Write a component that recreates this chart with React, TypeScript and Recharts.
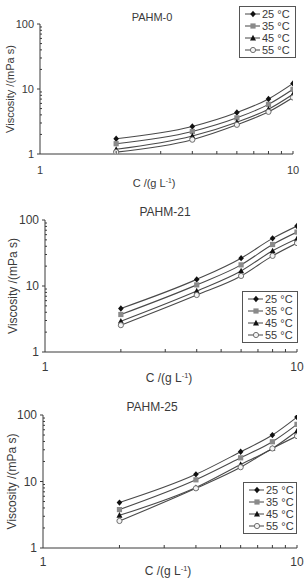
import React from 'react';
import { LineChart, Line, XAxis, YAxis, Legend } from 'recharts';

const FONT = '"Liberation Sans", Arial, Helvetica, sans-serif';
const INK = '#3a3a3a';

// Polymer concentration, g/L
const concentration = [2, 4, 6, 8, 10];
const temperatureNames = ['25 °C', '35 °C', '45 °C', '55 °C'];

// Viscosity (mPa s) per temperature, PAHM-0
const pahm0_25 = [1.72, 2.65, 4.34, 7.03, 12.2];
const pahm0_35 = [1.44, 2.22, 3.6, 5.8, 9.9];
const pahm0_45 = [1.18, 1.89, 3.09, 4.89, 8.3];
const pahm0_55 = [1.07, 1.66, 2.81, 4.45, 7.4];

// PAHM-21
const pahm21_25 = [4.57, 12.6, 26.4, 52.7, 81];
const pahm21_35 = [3.7, 10.4, 20.9, 42.5, 65.6];
const pahm21_45 = [2.93, 8.4, 16.9, 34.1, 52];
const pahm21_55 = [2.55, 7.3, 14.2, 28.6, 44.7];

// PAHM-25
const pahm25_25 = [4.82, 12.8, 28, 49.9, 93];
const pahm25_35 = [3.78, 10.6, 22.7, 39.6, 72.3];
const pahm25_45 = [3.1, 8.1, 18, 31.4, 57.4];
const pahm25_55 = [2.55, 7.9, 16.4, 31.4, 48.2];

const xTicks = [1, 2, 3, 4, 5, 6, 7, 8, 9, 10];
const yTicks = [1, 2, 3, 4, 5, 6, 7, 8, 9, 10, 20, 30, 40, 50, 60, 70, 80, 90, 100];
const xLabelTicks = [1, 10];
const yLabelTicks = [1, 10, 100];

const seriesKeys = ['t25', 't35', 't45', 't55'];
const markerKinds: Record<string, string> = {
  t25: 'diamond',
  t35: 'square',
  t45: 'triangle',
  t55: 'circle',
};

function buildRows(series: number[][]) {
  return concentration.map((c, i) => {
    const row: Record<string, number> = { c };
    seriesKeys.forEach((k, s) => {
      row[k] = series[s][i];
    });
    return row;
  });
}

function Marker({ kind, cx, cy }: { kind: string; cx: number; cy: number }) {
  switch (kind) {
    case 'diamond':
      return <path d={`M${cx},${cy - 3.2}L${cx + 2.8},${cy}L${cx},${cy + 3.2}L${cx - 2.8},${cy}Z`} fill="#111" />;
    case 'square':
      return <rect x={cx - 2.6} y={cy - 2.6} width={5.2} height={5.2} fill="#8a8a8a" />;
    case 'triangle':
      return <path d={`M${cx},${cy - 3.2}L${cx + 3},${cy + 2.4}L${cx - 3},${cy + 2.4}Z`} fill="#111" />;
    default:
      return <circle cx={cx} cy={cy} r={2.6} fill="#f4f4f4" stroke="#6f6f6f" strokeWidth={1} />;
  }
}

function makeYTick(fontSize: number) {
  return function YTick(props: any) {
    const { x, y, payload } = props;
    const v = payload.value;
    const major = yLabelTicks.includes(v);
    return (
      <g>
        {major ? (
          <line x1={x - 3} x2={x} y1={y} y2={y} stroke={INK} strokeWidth={1} />
        ) : (
          <line x1={x} x2={x + 2} y1={y} y2={y} stroke={INK} strokeWidth={1} />
        )}
        {major && (
          <text x={x - 6} y={y} dy={fontSize * 0.36} textAnchor="end" fontFamily={FONT} fontSize={fontSize} fill={INK}>
            {v}
          </text>
        )}
      </g>
    );
  };
}

function makeXTick(fontSize: number, gap: number) {
  return function XTick(props: any) {
    const { x, y, payload } = props;
    const v = payload.value;
    const major = xLabelTicks.includes(v);
    return (
      <g>
        {v !== 1 && <line x1={x} x2={x} y1={y} y2={y - 3} stroke={INK} strokeWidth={1} />}
        {major && (
          <text x={x} y={y + gap} dy={fontSize * 0.36} textAnchor="middle" fontFamily={FONT} fontSize={fontSize} fill={INK}>
            {v}
          </text>
        )}
      </g>
    );
  };
}

function YTitle(props: any) {
  const { viewBox, labelX, fontSize } = props;
  const cy = viewBox.y + viewBox.height / 2;
  return (
    <text
      transform={`translate(${labelX},${cy}) rotate(-90)`}
      textAnchor="middle"
      dy={fontSize * 0.36}
      fontFamily={FONT}
      fontSize={fontSize}
      fill={INK}
    >
      Viscosity /(mPa s)
    </text>
  );
}

function XTitle(props: any) {
  const { viewBox, labelX, gap, fontSize } = props;
  return (
    <text
      x={labelX}
      y={viewBox.y + gap}
      dy={fontSize * 0.36}
      textAnchor="middle"
      fontFamily={FONT}
      fontSize={fontSize}
      fill={INK}
    >
      C /(g L
      <tspan dy={-fontSize * 0.35} fontSize={fontSize * 0.62}>-1</tspan>
      <tspan dy={fontSize * 0.35}>)</tspan>
    </text>
  );
}

function LegendBox(props: any) {
  const { payload } = props;
  return (
    <div
      style={{
        border: '1px solid #555',
        background: '#fff',
        padding: '1px 2px 1px 4px',
        boxSizing: 'border-box',
        whiteSpace: 'nowrap',
      }}
    >
      {(payload || []).map((item: any) => (
        <div key={item.dataKey} style={{ display: 'flex', alignItems: 'center', height: 12 }}>
          <svg width={17} height={10} style={{ display: 'block', flex: 'none' }}>
            <line x1={1} x2={16} y1={5} y2={5} stroke="#444" strokeWidth={1} />
            <Marker kind={markerKinds[item.dataKey]} cx={9} cy={5} />
          </svg>
          <span style={{ fontFamily: FONT, fontSize: 11, color: INK, lineHeight: '12px', marginLeft: 1 }}>{item.value}</span>
        </div>
      ))}
    </div>
  );
}

type PanelProps = {
  title: string;
  series: number[][];
  top: number;
  axisWidth: number;
  marginTop: number;
  marginRight: number;
  xAxisHeight: number;
  fontSize: number;
  titleX: number;
  titleY: number;
  yLabelX: number;
  xLabelX: number;
  xLabelGap: number;
  xTickGap: number;
  legendLeft: number;
  legendTop: number;
  legendWidth: number;
};

const W = 307;
const H = 193;

function Panel(p: PanelProps) {
  const rows = buildRows(p.series);
  return (
    <div style={{ position: 'absolute', left: 0, top: p.top, width: W, height: H }}>
      <LineChart
        width={W}
        height={H}
        data={rows}
        margin={{ top: p.marginTop, right: p.marginRight, bottom: 0, left: 0 }}
      >
        <XAxis
          dataKey="c"
          type="number"
          scale="log"
          domain={[1, 10]}
          ticks={xTicks}
          interval={0}
          allowDataOverflow
          height={p.xAxisHeight}
          tickSize={0}
          tickMargin={0}
          tickLine={false}
          axisLine={{ stroke: INK, strokeWidth: 1 }}
          tick={makeXTick(p.fontSize, p.xTickGap)}
          label={<XTitle labelX={p.xLabelX} gap={p.xLabelGap} fontSize={p.fontSize} />}
        />
        <YAxis
          type="number"
          scale="log"
          domain={[1, 100]}
          ticks={yTicks}
          interval={0}
          allowDataOverflow
          width={p.axisWidth}
          tickSize={0}
          tickMargin={0}
          tickLine={false}
          axisLine={{ stroke: INK, strokeWidth: 1 }}
          tick={makeYTick(p.fontSize)}
          label={<YTitle labelX={p.yLabelX} fontSize={p.fontSize} />}
        />
        <Legend
          layout="vertical"
          align="center"
          verticalAlign="middle"
          wrapperStyle={{ left: p.legendLeft, top: p.legendTop, width: p.legendWidth }}
          content={<LegendBox />}
        />
        {seriesKeys.map((k, i) => (
          <Line
            key={k}
            dataKey={k}
            name={temperatureNames[i]}
            type="monotone"
            stroke="#4a4a4a"
            strokeWidth={1.1}
            isAnimationActive={false}
            dot={(d: any) => <Marker key={`${k}-${d.index}`} kind={markerKinds[k]} cx={d.cx} cy={d.cy} />}
            activeDot={false}
          />
        ))}
      </LineChart>
      <div
        style={{
          position: 'absolute',
          left: p.titleX - 50,
          width: 100,
          top: p.titleY - 7,
          textAlign: 'center',
          fontFamily: FONT,
          fontSize: p.fontSize,
          lineHeight: '14px',
          color: INK,
          pointerEvents: 'none',
        }}
      >
        {p.title}
      </div>
    </div>
  );
}

export default function App() {
  return (
    <div style={{ position: 'fixed', left: 0, top: 0, width: W, height: 579, background: '#fff', overflow: 'hidden' }}>
      <Panel
        title="PAHM-0"
        series={[pahm0_25, pahm0_35, pahm0_45, pahm0_55]}
        top={0}
        axisWidth={40}
        marginTop={24}
        marginRight={14}
        xAxisHeight={39}
        fontSize={11}
        titleX={152}
        titleY={17}
        yLabelX={10}
        xLabelX={154}
        xLabelGap={29}
        xTickGap={16}
        legendLeft={239}
        legendTop={6}
        legendWidth={57}
      />
      <Panel
        title="PAHM-21"
        series={[pahm21_25, pahm21_35, pahm21_45, pahm21_55]}
        top={193}
        axisWidth={45}
        marginTop={27}
        marginRight={10}
        xAxisHeight={34}
        fontSize={12}
        titleX={165}
        titleY={19}
        yLabelX={13}
        xLabelX={169}
        xLabelGap={26}
        xTickGap={15}
        legendLeft={242}
        legendTop={98}
        legendWidth={56}
      />
      <Panel
        title="PAHM-25"
        series={[pahm25_25, pahm25_35, pahm25_45, pahm25_55]}
        top={386}
        axisWidth={43}
        marginTop={29}
        marginRight={10}
        xAxisHeight={31}
        fontSize={12}
        titleX={152}
        titleY={21}
        yLabelX={12}
        xLabelX={168}
        xLabelGap={23}
        xTickGap={14}
        legendLeft={243}
        legendTop={96}
        legendWidth={54}
      />
    </div>
  );
}
